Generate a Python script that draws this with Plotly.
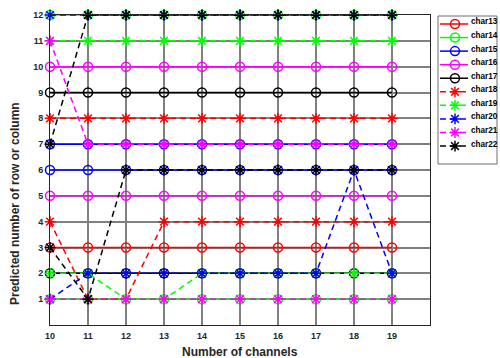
import plotly.graph_objects as go

# Number of channels on the x axis
channels = [10, 11, 12, 13, 14, 15, 16, 17, 18, 19]

# Predicted row/column for each character (legend entries)
char13 = [3, 3, 3, 3, 3, 3, 3, 3, 3, 3]
char14 = [12, 12, 12, 12, 12, 12, 12, 12, 12, 12]
char15 = [6, 6, 6, 6, 6, 6, 6, 6, 6, 6]
char16 = [10, 10, 10, 10, 10, 10, 10, 10, 10, 10]
char17 = [9, 9, 9, 9, 9, 9, 9, 9, 9, 9]
char18 = [8, 8, 8, 8, 8, 8, 8, 8, 8, 8]
char19 = [11, 11, 11, 11, 11, 11, 11, 11, 11, 11]
char20 = [12, 12, 12, 12, 12, 12, 12, 12, 12, 12]
char21 = [11, 7, 7, 7, 7, 7, 7, 7, 7, 7]
char22 = [7, 12, 12, 12, 12, 12, 12, 12, 12, 12]

# Remaining characters (drawn, not listed in the legend)
char1 = [1, 1, 1, 1, 1, 1, 1, 1, 1, 1]
char2 = [7, 7, 7, 7, 7, 7, 7, 7, 7, 7]
char3 = [5, 5, 5, 5, 5, 5, 5, 5, 5, 5]
char4 = [2, 2, 2, 2, 2, 2, 2, 2, 2, 2]
char5 = [4, 1, 1, 4, 4, 4, 4, 4, 4, 4]
char6 = [2, 2, 1, 1, 2, 2, 2, 2, 2, 2]
char7 = [1, 2, 2, 2, 2, 2, 2, 2, 6, 2]
char8 = [1, 1, 1, 1, 1, 1, 1, 1, 1, 1]
char9 = [3, 1, 6, 6, 6, 6, 6, 6, 6, 6]

x_ticks = [10, 11, 12, 13, 14, 15, 16, 17, 18, 19]
y_ticks = [1, 2, 3, 4, 5, 6, 7, 8, 9, 10, 11, 12]

RED, GREEN, BLUE, MAG, BLACK = "#ff0000", "#00ff00", "#0000ff", "#ff00ff", "#000000"
FONT = "Liberation Sans, Arial, sans-serif"
LW = 1.5
MSIZE = 9
DASH = "6px,4px"

# (name, values, colour, marker kind) in drawing order
series = [
    ("char13", char13, RED, "o"),
    ("char14", char14, GREEN, "o"),
    ("char1", char1, GREEN, "o"),
    ("char15", char15, BLUE, "o"),
    ("char2", char2, BLUE, "o"),
    ("char16", char16, MAG, "o"),
    ("char3", char3, MAG, "o"),
    ("char17", char17, BLACK, "o"),
    ("char4", char4, BLACK, "o"),
    ("char18", char18, RED, "*"),
    ("char5", char5, RED, "*"),
    ("char19", char19, GREEN, "*"),
    ("char6", char6, GREEN, "*"),
    ("char20", char20, BLUE, "*"),
    ("char7", char7, BLUE, "*"),
    ("char21", char21, MAG, "*"),
    ("char8", char8, MAG, "*"),
    ("char22", char22, BLACK, "*"),
    ("char9", char9, BLACK, "*"),
]

legend_names = ["char13", "char14", "char15", "char16", "char17",
                "char18", "char19", "char20", "char21", "char22"]


def style(color, kind):
    if kind == "o":
        return dict(color=color, width=LW), dict(symbol="circle-open", size=MSIZE,
                                                 color=color, line=dict(color=color, width=LW))
    return dict(color=color, width=LW, dash=DASH), dict(symbol="asterisk-open", size=MSIZE,
                                                       color=color, line=dict(color=color, width=LW))


fig = go.Figure()
for name, vals, color, kind in series:
    line, marker = style(color, kind)
    fig.add_trace(go.Scatter(x=channels, y=vals, mode="lines+markers", name=name,
                             line=line, marker=marker, cliponaxis=False,
                             showlegend=False, xaxis="x", yaxis="y"))

# Legend drawn in its own small axes box
lookup = {name: (color, kind) for name, _, color, kind in series}
seg_x0, seg_mid, seg_x1, text_x = 0.034, 0.288, 0.51, 0.53
annotations = []
for i, name in enumerate(legend_names):
    color, kind = lookup[name]
    line, marker = style(color, kind)
    fig.add_trace(go.Scatter(x=[seg_x0, seg_x1], y=[i, i], mode="lines", line=line,
                             showlegend=False, hoverinfo="skip", xaxis="x2", yaxis="y2",
                             cliponaxis=False))
    fig.add_trace(go.Scatter(x=[seg_mid], y=[i], mode="markers", marker=marker,
                             showlegend=False, hoverinfo="skip", xaxis="x2", yaxis="y2",
                             cliponaxis=False))
    annotations.append(dict(x=text_x, y=i, xref="x2", yref="y2", text=name, showarrow=False,
                            xanchor="left", yanchor="middle", yshift=2,
                            font=dict(family=FONT, size=8.2, color="#000", weight="bold")))

W, H = 500, 358
ml, mr, mt, mb = 50, 3, 15, 33
pw = W - ml - mr
ph = H - mt - mb
plot_right = 430
leg_l, leg_r, leg_t, leg_b = 438, 497, 16, 164
row0, row_step = 24, 13.56

annotations.append(dict(x=(ml + (plot_right - ml) / 2 - ml) / pw, y=-(352 - (H - mb)) / ph,
                        xref="paper", yref="paper", text="Number of channels", showarrow=False,
                        xanchor="center", yanchor="middle",
                        font=dict(family=FONT, size=12, color="#262626", weight="bold")))
annotations.append(dict(x=(15 - ml) / pw, y=((H - mb) - 204) / ph,
                        xref="paper", yref="paper", text="Predicted number of row or column",
                        showarrow=False, textangle=-90, xanchor="center", yanchor="middle",
                        font=dict(family=FONT, size=12, color="#262626", weight="bold")))

axis_common = dict(showgrid=True, gridcolor="#808080", gridwidth=1.6, zeroline=False,
                   showline=True, linecolor="#262626", linewidth=1, mirror=True,
                   ticks="", tickfont=dict(family=FONT, size=9, color="#262626", weight="bold"))

fig.update_layout(
    width=W, height=H, autosize=False,
    margin=dict(l=ml, r=mr, t=mt, b=mb, pad=0),
    paper_bgcolor="white", plot_bgcolor="white",
    showlegend=False,
    xaxis=dict(domain=[0, (plot_right - ml) / pw], range=[10, 20], tickvals=x_ticks,
               ticktext=[str(v) for v in x_ticks], ticklabelstandoff=2, **axis_common),
    yaxis=dict(domain=[0, 1], range=[0, 12], tickvals=y_ticks,
               ticktext=[str(v) for v in y_ticks], ticklabelstandoff=4, **axis_common),
    xaxis2=dict(domain=[(leg_l - ml) / pw, (leg_r - ml) / pw], range=[0, 1], visible=False,
                anchor="y2"),
    yaxis2=dict(domain=[((H - mb) - leg_b) / ph, ((H - mb) - leg_t) / ph],
                range=[(leg_b - row0) / row_step, (leg_t - row0) / row_step],
                visible=False, anchor="x2"),
    annotations=annotations,
    shapes=[dict(type="rect", xref="x2 domain", yref="y2 domain", x0=0, x1=1, y0=0, y1=1,
                 line=dict(color="#6e6e6e", width=1), fillcolor="rgba(0,0,0,0)", layer="above")],
)

fig.write_html("out.html")
